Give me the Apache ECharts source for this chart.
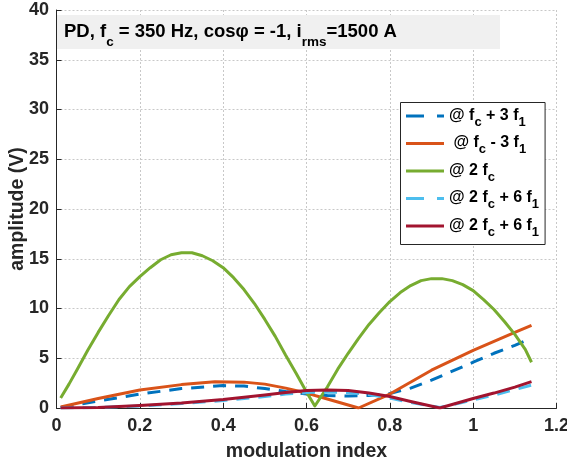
<!DOCTYPE html>
<html>
<head>
<meta charset="utf-8">
<script src="https://cdn.jsdelivr.net/npm/echarts@6/dist/echarts.min.js"></script>
<style>
html,body{margin:0;padding:0;background:#fff;}
#chart{width:567px;height:466px;}
</style>
</head>
<body>
<div id="chart"></div>
<script>
// ---- data ----
var xTicks = [0, 0.2, 0.4, 0.6, 0.8, 1, 1.2];
var yTicks = [0, 5, 10, 15, 20, 25, 30, 35, 40];

// @ fc + 3 f1 (dark blue, dashed)
var xBlue = [0.01, 0.1, 0.2, 0.3, 0.4, 0.45, 0.5, 0.55, 0.6, 0.65, 0.7, 0.75, 0.8, 0.85, 0.9, 0.95, 1.0, 1.05, 1.1, 1.14];
var yBlue = [0.05, 0.7, 1.4, 1.95, 2.25, 2.2, 1.95, 1.65, 1.4, 1.25, 1.2, 1.25, 1.45, 2.0, 2.8, 3.7, 4.6, 5.5, 6.3, 7.0];

// @ fc - 3 f1 (orange)
var xOrange = [0.01, 0.1, 0.2, 0.3, 0.38, 0.45, 0.5, 0.55, 0.6, 0.65, 0.7, 0.725, 0.8, 0.9, 1.0, 1.1, 1.14];
var yOrange = [0.1, 0.95, 1.8, 2.35, 2.65, 2.6, 2.4, 2.0, 1.5, 0.9, 0.3, 0.0, 1.4, 3.8, 5.8, 7.6, 8.3];

// @ 2 fc (green)
var xGreen = [0.01, 0.03, 0.05, 0.075, 0.1, 0.125, 0.15, 0.175, 0.2, 0.225, 0.25, 0.275, 0.3, 0.325, 0.35, 0.375, 0.4, 0.425, 0.45, 0.475, 0.5, 0.525, 0.55, 0.575, 0.6, 0.62,
              0.65, 0.675, 0.7, 0.725, 0.75, 0.775, 0.8, 0.825, 0.85, 0.875, 0.9, 0.925, 0.95, 0.975, 1.0, 1.025, 1.05, 1.075, 1.1, 1.125, 1.14];
var yGreen = [1.0, 2.4, 3.9, 5.8, 7.6, 9.3, 10.9, 12.2, 13.2, 14.1, 14.9, 15.4, 15.6, 15.6, 15.3, 14.8, 14.1, 13.1, 11.9, 10.5, 8.9, 7.2, 5.3, 3.5, 1.6, 0.2,
              2.1, 3.9, 5.5, 7.0, 8.4, 9.6, 10.7, 11.6, 12.3, 12.8, 13.0, 13.0, 12.8, 12.4, 11.8, 10.9, 9.9, 8.7, 7.4, 5.9, 4.6];

// @ 2 fc + 6 f1 (light blue, dashed)
var xLight = [0.01, 0.1, 0.2, 0.3, 0.4, 0.5, 0.55, 0.6, 0.65, 0.7, 0.75, 0.8, 0.85, 0.92, 1.0, 1.05, 1.1, 1.14];
var yLight = [0.0, 0.05, 0.2, 0.45, 0.75, 1.15, 1.4, 1.55, 1.6, 1.55, 1.35, 1.0, 0.55, 0.05, 0.8, 1.3, 1.85, 2.3];

// @ 2 fc + 6 f1 (dark red)
var xRed = [0.01, 0.1, 0.2, 0.3, 0.4, 0.5, 0.55, 0.6, 0.65, 0.7, 0.75, 0.8, 0.85, 0.92, 1.0, 1.05, 1.1, 1.14];
var yRed = [0.0, 0.05, 0.25, 0.5, 0.85, 1.3, 1.55, 1.75, 1.8, 1.75, 1.5, 1.15, 0.65, 0.0, 0.95, 1.5, 2.1, 2.65];

var names = ['blue', 'orange', 'green', 'light', 'red'];
var legendRich = {
  blue:   '{m|@ f}{s|c}{m| + 3 f}{s|1}',
  orange: '{m| @ f}{s|c}{m| - 3 f}{s|1}',
  green:  '{m|@ 2 f}{s|c}',
  light:  '{m|@ 2 f}{s|c}{m| + 6 f}{s|1}',
  red:    '{m|@ 2 f}{s|c}{m| + 6 f}{s|1}'
};

function pairs(xs, ys) { return xs.map(function (x, i) { return [x, ys[i]]; }); }

var FONT = '"Liberation Sans", Arial, sans-serif';
var TXT = '#262626';

var chart = echarts.init(document.getElementById('chart'), null, {renderer: 'canvas'});

function lineSeries(name, color, xs, ys, dashed, width) {
  return {
    name: name, type: 'line', data: pairs(xs, ys), symbol: 'none', smooth: false,
    lineStyle: {color: color, width: width, type: dashed ? [13, 9] : 'solid', cap: 'butt', join: 'round'},
    itemStyle: {color: color},
    emphasis: {disabled: true}, animation: false
  };
}

var legendData = names.map(function (n) {
  var dashed = (n === 'blue' || n === 'light');
  return {name: n, lineStyle: {type: dashed ? [18, 13] : 'solid', width: 3}};
});

var option = {
  animation: false,
  backgroundColor: '#ffffff',
  grid: {left: 56.5, right: 10.5, top: 10, bottom: 58, containLabel: false, outerBoundsMode: 'none'},
  graphic: [{
    type: 'rect', left: 57, top: 15, z: 5,
    shape: {width: 443, height: 34},
    style: {fill: '#f0f0f0', stroke: null}
  }],
  title: {
    left: 64, top: 22, padding: 0, z: 10,
    text: '{m|PD, f}{s|c}{m| = 350 Hz, cosφ = -1, i}{s|rms}{m|=1500 A}',
    textStyle: {
      fontFamily: FONT, fontWeight: 'bold', fontSize: 18.5, color: '#000',
      rich: {
        m: {fontFamily: FONT, fontWeight: 'bold', fontSize: 18.5, color: '#000', lineHeight: 20, verticalAlign: 'top'},
        s: {fontFamily: FONT, fontWeight: 'bold', fontSize: 13.5, color: '#000', lineHeight: 13, padding: [13, 0, 0, 0], verticalAlign: 'top'}
      }
    }
  },
  legend: {
    orient: 'vertical', left: 400.5, top: 102.5,
    padding: [5, 6, 6, 4],
    itemGap: 6.5, itemWidth: 38, itemHeight: 14, itemTextGap: 6,
    backgroundColor: '#ffffff', borderColor: '#262626', borderWidth: 1,
    itemStyle: {opacity: 0},
    data: legendData,
    formatter: function (n) { return legendRich[n]; },
    textStyle: {
      fontFamily: FONT, fontWeight: 'bold', fontSize: 16, color: '#000',
      rich: {
        m: {fontFamily: FONT, fontWeight: 'bold', fontSize: 16, color: '#000', lineHeight: 17, verticalAlign: 'top'},
        s: {fontFamily: FONT, fontWeight: 'bold', fontSize: 13, color: '#000', lineHeight: 13, padding: [8, 0, 0, 0], verticalAlign: 'top'}
      }
    },
    selectedMode: false
  },
  xAxis: {
    type: 'value', min: xTicks[0], max: xTicks[xTicks.length - 1], interval: 0.2,
    name: 'modulation index', nameLocation: 'middle', nameGap: 34, nameMoveOverlap: false,
    nameTextStyle: {fontFamily: FONT, fontWeight: 'bold', fontSize: 19.5, color: TXT},
    axisLine: {show: true, onZero: false, lineStyle: {color: TXT, width: 1}},
    axisTick: {show: true, inside: true, length: 5, lineStyle: {color: TXT}},
    axisLabel: {fontFamily: FONT, fontWeight: 'bold', fontSize: 18, color: TXT, margin: 9},
    splitLine: {show: true, lineStyle: {color: '#c8c8c8', width: 1, type: [2, 2]}}
  },
  yAxis: {
    type: 'value', min: yTicks[0], max: yTicks[yTicks.length - 1], interval: 5,
    name: 'amplitude (V)', nameLocation: 'middle', nameGap: 29, nameMoveOverlap: false,
    nameTextStyle: {fontFamily: FONT, fontWeight: 'bold', fontSize: 19.5, color: TXT},
    axisLine: {show: true, lineStyle: {color: TXT, width: 1}},
    axisTick: {show: true, inside: true, length: 5, lineStyle: {color: TXT}},
    axisLabel: {fontFamily: FONT, fontWeight: 'bold', fontSize: 18, color: TXT, margin: 7.5},
    splitLine: {show: true, lineStyle: {color: '#c8c8c8', width: 1, type: [2, 2]}}
  },
  series: [
    lineSeries('blue',   '#0072BD', xBlue,   yBlue,   true,  3),
    lineSeries('orange', '#D95319', xOrange, yOrange, false, 3),
    lineSeries('green',  '#77AC30', xGreen,  yGreen,  false, 3),
    lineSeries('light',  '#4DBEEE', xLight,  yLight,  true,  3),
    lineSeries('red',    '#A2142F', xRed,    yRed,    false, 3)
  ]
};
chart.setOption(option);
</script>
</body>
</html>
